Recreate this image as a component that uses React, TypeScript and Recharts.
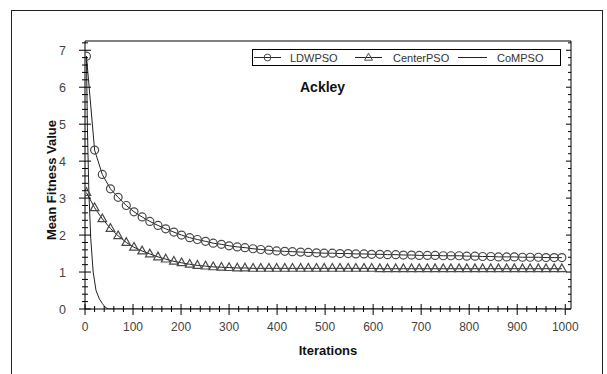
import { Legend, Line, LineChart, XAxis, YAxis } from "recharts";

// Ackley benchmark: mean fitness over iterations for three PSO variants.
// Open markers sit on the sampled iterations; CoMPSO is a bare line that
// collapses to zero in the first ~50 iterations.

const FONT = "'Liberation Sans', Arial, Helvetica, sans-serif";

const markerIters = [
  3, 20, 36, 53, 69, 86, 102, 119, 135, 152, 168, 185, 201, 218, 234, 251, 267, 284, 300, 317,
  333, 350, 366, 383, 399, 416, 432, 449, 465, 482, 498, 515, 531, 548, 564, 581, 597, 614, 630,
  647, 663, 680, 696, 713, 729, 746, 762, 779, 795, 812, 828, 845, 861, 878, 894, 911, 927, 944,
  960, 977, 993,
];

const ldwpso = [
  6.84, 4.3, 3.64, 3.25, 3.02, 2.8, 2.63, 2.49, 2.37, 2.26, 2.17, 2.08, 2.0, 1.93, 1.88, 1.83,
  1.78, 1.75, 1.71, 1.68, 1.66, 1.63, 1.61, 1.59, 1.57, 1.56, 1.55, 1.54, 1.53, 1.52, 1.51, 1.51,
  1.5, 1.5, 1.49, 1.49, 1.48, 1.48, 1.47, 1.47, 1.46, 1.46, 1.45, 1.45, 1.45, 1.44, 1.44, 1.44,
  1.43, 1.43, 1.42, 1.42, 1.41, 1.41, 1.41, 1.4, 1.4, 1.4, 1.39, 1.39, 1.39,
];

const centerpso = [
  3.15, 2.74, 2.44, 2.18, 1.98, 1.8, 1.67, 1.57, 1.49, 1.41, 1.35, 1.29, 1.25, 1.21, 1.18, 1.16,
  1.14, 1.13, 1.12, 1.11, 1.11, 1.1, 1.1, 1.1, 1.1, 1.1, 1.1, 1.1, 1.1, 1.1, 1.1, 1.1, 1.1, 1.1,
  1.1, 1.1, 1.1, 1.09, 1.09, 1.09, 1.09, 1.09, 1.09, 1.09, 1.09, 1.09, 1.09, 1.09, 1.09, 1.09,
  1.09, 1.09, 1.09, 1.09, 1.09, 1.09, 1.09, 1.09, 1.09, 1.09, 1.09,
];

const compsoIters = [3, 5, 8, 12, 17, 23, 30, 36, 42, 48, 993];
const compso = [6.84, 4.9, 3.2, 1.9, 1.0, 0.5, 0.27, 0.15, 0.05, 0, 0];

const seriesNames = ["LDWPSO", "CenterPSO", "CoMPSO"];

const X_MAX = 1012;
const Y_MAX = 7.25;

// minor ticks every 20 iterations / every 0.2 units, labels on the majors
const xTicks: number[] = [];
for (let v = 0; v <= 1000; v += 20) xTicks.push(v);
const yTicks: number[] = [];
for (let i = 0; i <= 36; i++) yTicks.push(i / 5);

const ldData = markerIters.map((iter, i) => ({ iter, v: ldwpso[i] }));
const centerData = markerIters.map((iter, i) => ({ iter, v: centerpso[i] }));
const coData = compsoIters.map((iter, i) => ({ iter, v: compso[i] }));

const LINE = "#222";
const MARK = "#4a4a4a";
const TICK_TEXT = "#444";

const isMajorY = (v: number) => Math.abs(v - Math.round(v)) < 1e-6;

function BottomTick({ x, y, payload }: any) {
  const major = payload.value % 100 === 0;
  return (
    <g>
      <line x1={x} x2={x} y1={y - (major ? 5 : 3)} y2={y + (major ? 6 : 3)} stroke="#000" />
      {major && (
        <text x={x} y={y + 22} textAnchor="middle" fontSize={12} fontFamily={FONT} fill={TICK_TEXT}>
          {payload.value}
        </text>
      )}
    </g>
  );
}

function TopTick({ x, y, payload }: any) {
  const major = payload.value % 100 === 0;
  return <line x1={x} x2={x} y1={y} y2={y + (major ? 5 : 3)} stroke="#000" />;
}

function LeftTick({ x, y, payload }: any) {
  const major = isMajorY(payload.value);
  return (
    <g>
      <line x1={x - (major ? 6 : 3)} x2={x + (major ? 6 : 3)} y1={y} y2={y} stroke="#000" />
      {major && (
        <text x={x - 19} y={y + 4.5} textAnchor="end" fontSize={12.5} fontFamily={FONT} fill={TICK_TEXT}>
          {Math.round(payload.value)}
        </text>
      )}
    </g>
  );
}

function RightTick({ x, y, payload }: any) {
  const major = isMajorY(payload.value);
  return <line x1={x - (major ? 5 : 3)} x2={x} y1={y} y2={y} stroke="#000" />;
}

function CircleDot({ cx, cy, index }: any) {
  return <circle key={`c${index}`} cx={cx} cy={cy} r={4} fill="none" stroke={MARK} strokeWidth={1.2} />;
}

function TriangleDot({ cx, cy, index }: any) {
  const d = `M${cx},${cy - 4.8}L${cx - 4.3},${cy + 2.9}L${cx + 4.3},${cy + 2.9}Z`;
  return <path key={`t${index}`} d={d} fill="none" stroke={MARK} strokeWidth={1.2} />;
}

function LegendBox() {
  const text = { fontSize: 11, fontFamily: FONT, fill: "#333" };
  return (
    <svg width={310} height={18} style={{ display: "block" }}>
      <rect x={0.5} y={0.5} width={308} height={16} fill="#fff" stroke="#000" />
      <line x1={2} x2={29} y1={8.5} y2={8.5} stroke={LINE} />
      <circle cx={15.5} cy={8.5} r={3.4} fill="none" stroke={MARK} />
      <text x={38} y={12.5} {...text}>{seriesNames[0]}</text>
      <line x1={103} x2={130} y1={8.5} y2={8.5} stroke={LINE} />
      <path d="M116.5,4.2L112.5,11.2L120.5,11.2Z" fill="none" stroke={MARK} />
      <text x={141} y={12.5} {...text}>{seriesNames[1]}</text>
      <line x1={206} x2={235} y1={8.5} y2={8.5} stroke={LINE} />
      <text x={245} y={12.5} {...text}>{seriesNames[2]}</text>
    </svg>
  );
}

export default function App() {
  return (
    <div
      style={{
        position: "fixed",
        left: 0,
        top: 0,
        width: 607,
        height: 374,
        overflow: "hidden",
        background: "#fff",
        fontFamily: FONT,
      }}
    >
      <div
        style={{
          position: "absolute",
          left: 11,
          top: 10,
          width: 590,
          height: 420,
          borderLeft: "1px solid #222",
          borderTop: "1px solid #222",
          borderRight: "1px solid #222",
        }}
      />
      <div style={{ position: "absolute", left: 0, top: 0 }}>
        <LineChart width={607} height={374} margin={{ top: 0, right: 0, bottom: 0, left: 0 }}>
          <XAxis
            dataKey="iter"
            type="number"
            domain={[0, X_MAX]}
            allowDataOverflow
            ticks={xTicks}
            interval={0}
            height={65}
            tickSize={0}
            tickMargin={0}
            tick={<BottomTick />}
            axisLine={{ stroke: "#000" }}
          />
          <XAxis
            xAxisId="top"
            orientation="top"
            type="number"
            domain={[0, X_MAX]}
            allowDataOverflow
            ticks={xTicks}
            interval={0}
            height={41}
            tickSize={0}
            tickMargin={0}
            tick={<TopTick />}
            axisLine={{ stroke: "#000" }}
          />
          <YAxis
            type="number"
            domain={[0, Y_MAX]}
            allowDataOverflow
            ticks={yTicks}
            interval={0}
            width={85}
            tickSize={0}
            tickMargin={0}
            tick={<LeftTick />}
            axisLine={{ stroke: "#000" }}
          />
          <YAxis
            yAxisId="right"
            orientation="right"
            type="number"
            domain={[0, Y_MAX]}
            allowDataOverflow
            ticks={yTicks}
            interval={0}
            width={36}
            tickSize={0}
            tickMargin={0}
            tick={<RightTick />}
            axisLine={{ stroke: "#000" }}
          />
          <Line
            data={coData}
            dataKey="v"
            name={seriesNames[2]}
            type="linear"
            stroke={LINE}
            strokeWidth={1}
            dot={false}
            isAnimationActive={false}
          />
          <Line
            data={centerData}
            dataKey="v"
            name={seriesNames[1]}
            type="linear"
            stroke={LINE}
            strokeWidth={1}
            dot={<TriangleDot />}
            activeDot={false}
            isAnimationActive={false}
          />
          <Line
            data={ldData}
            dataKey="v"
            name={seriesNames[0]}
            type="linear"
            stroke={LINE}
            strokeWidth={1}
            dot={<CircleDot />}
            activeDot={false}
            isAnimationActive={false}
          />
          <Legend
            layout="horizontal"
            verticalAlign="middle"
            align="center"
            content={<LegendBox />}
            wrapperStyle={{ position: "absolute", left: 252, top: 49, width: 310, height: 18 }}
          />
        </LineChart>
      </div>
      <div
        style={{
          position: "absolute",
          left: 300,
          top: 79,
          fontSize: 14,
          fontWeight: "bold",
          color: "#111",
          whiteSpace: "nowrap",
        }}
      >
        Ackley
      </div>
      <div
        style={{
          position: "absolute",
          left: 328,
          top: 343,
          transform: "translateX(-50%)",
          fontSize: 13,
          fontWeight: "bold",
          color: "#111",
          whiteSpace: "nowrap",
        }}
      >
        Iterations
      </div>
      <div
        style={{
          position: "absolute",
          left: 51,
          top: 180,
          transform: "translate(-50%, -50%) rotate(-90deg)",
          fontSize: 13,
          fontWeight: "bold",
          color: "#111",
          whiteSpace: "nowrap",
        }}
      >
        Mean Fitness Value
      </div>
    </div>
  );
}
